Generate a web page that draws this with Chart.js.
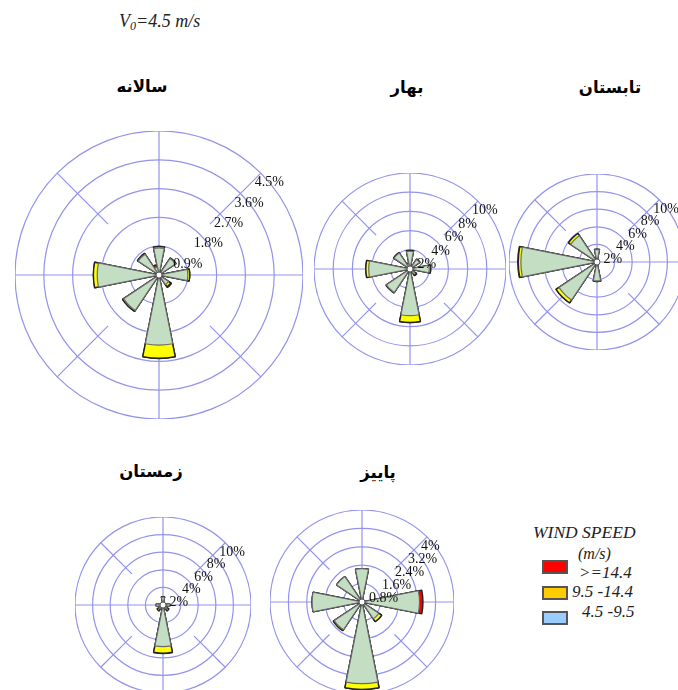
<!DOCTYPE html>
<html>
<head>
<meta charset="utf-8">
<script src="https://cdn.jsdelivr.net/npm/chart.js@4.4.1/dist/chart.umd.min.js"></script>
<style>
  html, body { margin: 0; padding: 0; background: #fff; }
  body { position: relative; width: 678px; height: 690px; overflow: hidden; }
  canvas { position: absolute; }
  .title { position: absolute; font-family: "DejaVu Sans", sans-serif; font-weight: bold;
           font-size: 16.5px; line-height: 1; direction: rtl; white-space: nowrap;
           transform: translate(-50%, -50%); color: #000; }
  .txt { position: absolute; font-family: "Liberation Serif", "Times New Roman", serif;
         font-style: italic; line-height: 1; white-space: nowrap; color: #222; }
  .sw { position: absolute; width: 22px; height: 10px; border: 2px solid #555; }
</style>
</head>
<body>
<div class="txt" style="left:119px; top:12px; font-size:18px;">V<sub style="font-size:12px; vertical-align:-3px;">0</sub>=4.5 m/s</div>

<div class="title" style="left:142px; top:87px;">سالانه</div>
<div class="title" style="left:407px; top:88px;">بهار</div>
<div class="title" style="left:610px; top:88px;">تابستان</div>
<div class="title" style="left:151px; top:472px;">زمستان</div>
<div class="title" style="left:378px; top:473px;">پاییز</div>

<canvas id="annual"></canvas>
<canvas id="spring"></canvas>
<canvas id="summer"></canvas>
<canvas id="winter"></canvas>
<canvas id="autumn"></canvas>

<div class="txt" style="left:533px; top:524px; font-size:17.5px;">WIND SPEED</div>
<div class="txt" style="left:578px; top:546px; font-size:16px;">(m/s)</div>
<div class="sw" style="left:542px; top:560px; background:#ff0000;"></div>
<div class="txt" style="left:579px; top:564px; font-size:17px;">&gt;=14.4</div>
<div class="sw" style="left:542px; top:586px; background:#ffcc00;"></div>
<div class="txt" style="left:572px; top:583px; font-size:17px;">9.5 -14.4</div>
<div class="sw" style="left:542px; top:611px; background:#99ccff;"></div>
<div class="txt" style="left:582px; top:603px; font-size:17px;">4.5 -9.5</div>

<script>
// 16 compass sectors, clockwise from north
const directions = ['N','NNE','NE','ENE','E','ESE','SE','SSE','S','SSW','SW','WSW','W','WNW','NW','NNW'];

// Frequency (%) per sector for each speed class: 4.5-9.5, 9.5-14.4, >=14.4 m/s
const annualLow  = [0.85, 0, 0.62, 0, 0.90, 0, 0.36, 0, 2.19, 0, 1.33, 0, 1.93, 0, 0.78, 0.25];
const annualMid  = [0.04, 0, 0.02, 0, 0.06, 0, 0.08, 0, 0.41, 0, 0.04, 0, 0.12, 0, 0.03, 0];
const annualHigh = [0,    0, 0,    0, 0,    0, 0.03, 0, 0.01, 0, 0,    0, 0,    0, 0,    0.08];
const annualTicks = [0.9, 1.8, 2.7, 3.6, 4.5];

const springLow  = [1.85, 0, 1.20, 0, 2.00, 0, 0.60, 0, 4.86, 0, 2.95, 0, 4.30, 0, 2.00, 0.55];
const springMid  = [0.09, 0, 0.05, 0, 0.15, 0, 0.20, 0, 0.72, 0, 0.05, 0, 0.30, 0, 0.05, 0];
const springHigh = [0,    0, 0,    0, 0,    0, 0.05, 0, 0,    0, 0,    0, 0,    0, 0,    0.10];
const springTicks = [2, 4, 6, 8, 10];

const summerLow  = [1.40, 0, 0, 0, 0, 0, 0, 0, 2.15, 0, 5.20, 0, 8.65, 0, 3.60, 0];
const summerMid  = [0.06, 0, 0, 0, 0, 0, 0, 0, 0.06, 0, 0.40, 0, 0.30, 0, 0.30, 0];
const summerHigh = [0,    0, 0, 0, 0, 0, 0, 0, 0,    0, 0,    0, 0.05, 0, 0,    0];
const summerTicks = [2, 4, 6, 8, 10];

const winterLow  = [0.90, 0, 0, 0, 0.76, 0, 0.55, 0, 4.73, 0, 0.55, 0, 0.76, 0, 0, 0];
const winterMid  = [0.05, 0, 0, 0, 0,    0, 0.25, 0, 0.75, 0, 0.25, 0, 0,    0, 0, 0];
const winterHigh = [0,    0, 0, 0, 0,    0, 0,    0, 0.03, 0, 0,    0, 0,    0, 0, 0];
const winterTicks = [2, 4, 6, 8, 10];

const autumnLow  = [1.45, 0, 0, 0, 2.50, 0, 0.88, 0, 3.55, 0, 1.45, 0, 2.17, 0, 1.33, 0];
const autumnMid  = [0,    0, 0, 0, 0,    0, 0.15, 0, 0.25, 0, 0.05, 0, 0,    0, 0,    0];
const autumnHigh = [0,    0, 0, 0, 0.15, 0, 0,    0, 0,    0, 0,    0, 0,    0, 0,    0];
const autumnTicks = [0.8, 1.6, 2.4, 3.2, 4];

const GRID = '#9393ec';
const GREEN = '#c3dec3';
const YELLOW = '#ffff00';
const RED = '#ff0000';

// compass spokes, calm circle and ring labels
function roseFrame(tickValues) {
  return {
    id: 'roseFrame',
    beforeDatasetsDraw(chart) {
      const s = chart.scales.r, ctx = chart.ctx;
      const R = s.drawingArea, cx = s.xCenter, cy = s.yCenter;
      ctx.save();
      ctx.strokeStyle = GRID;
      ctx.lineWidth = 1.2;
      for (let k = 0; k < 8; k++) {
        const a = k * Math.PI / 4;
        const r0 = (k % 2) ? R * 0.5 : 0;
        ctx.beginPath();
        ctx.moveTo(cx + r0 * Math.sin(a), cy - r0 * Math.cos(a));
        ctx.lineTo(cx + R * Math.sin(a), cy - R * Math.cos(a));
        ctx.stroke();
      }
      ctx.restore();
    },
    afterDatasetsDraw(chart) {
      const s = chart.scales.r, ctx = chart.ctx;
      const cx = s.xCenter, cy = s.yCenter;
      ctx.save();
      ctx.beginPath();
      ctx.arc(cx, cy, 3, 0, Math.PI * 2);
      ctx.fillStyle = '#fff';
      ctx.fill();
      ctx.strokeStyle = '#555';
      ctx.lineWidth = 1;
      ctx.stroke();
      ctx.font = '14px "Liberation Serif", serif';
      ctx.fillStyle = '#111';
      ctx.textAlign = 'left';
      ctx.textBaseline = 'alphabetic';
      tickValues.forEach(v => {
        const r = s.getDistanceFromCenterForValue(v) * Math.SQRT1_2;
        ctx.fillText(v + '%', cx + r - 6, cy - r + 13);
      });
      ctx.restore();
    }
  };
}

function makeRose(id, cx, cy, R, low, mid, high, ticks) {
  const cv = document.getElementById(id);
  cv.width = 2 * R; cv.height = 2 * R;
  cv.style.left = (cx - R) + 'px';
  cv.style.top = (cy - R) + 'px';
  const lowMid = low.map((v, i) => v + mid[i]);
  const total = lowMid.map((v, i) => v + high[i]);
  const bw = w => (c => (c.raw > 0 ? w : 0));
  new Chart(cv, {
    type: 'polarArea',
    data: {
      labels: directions,
      datasets: [
        { data: low, backgroundColor: GREEN, borderColor: '#6a6a6a', borderWidth: bw(1.2) },
        { data: lowMid, backgroundColor: YELLOW, borderColor: '#222', borderWidth: bw(1.4) },
        { data: total, backgroundColor: RED, borderColor: '#222', borderWidth: bw(1.4) }
      ]
    },
    options: {
      responsive: false,
      animation: false,
      events: [],
      layout: { padding: 0 },
      plugins: { legend: { display: false }, tooltip: { enabled: false } },
      scales: {
        r: {
          min: 0,
          max: ticks[ticks.length - 1],
          startAngle: -360 / directions.length / 2,
          afterBuildTicks: sc => { sc.ticks = [0, ...ticks].map(v => ({ value: v })); },
          ticks: { display: false },
          grid: { circular: true, color: GRID, lineWidth: 1.2 },
          angleLines: { display: false },
          pointLabels: { display: false }
        }
      }
    },
    plugins: [roseFrame(ticks)]
  });
}

makeRose('annual', 159, 275, 144, annualLow, annualMid, annualHigh, annualTicks);
makeRose('spring', 410, 269, 96, springLow, springMid, springHigh, springTicks);
makeRose('summer', 597, 262, 88, summerLow, summerMid, summerHigh, summerTicks);
makeRose('winter', 163, 605, 88, winterLow, winterMid, winterHigh, winterTicks);
makeRose('autumn', 362, 602, 92, autumnLow, autumnMid, autumnHigh, autumnTicks);
</script>
</body>
</html>
